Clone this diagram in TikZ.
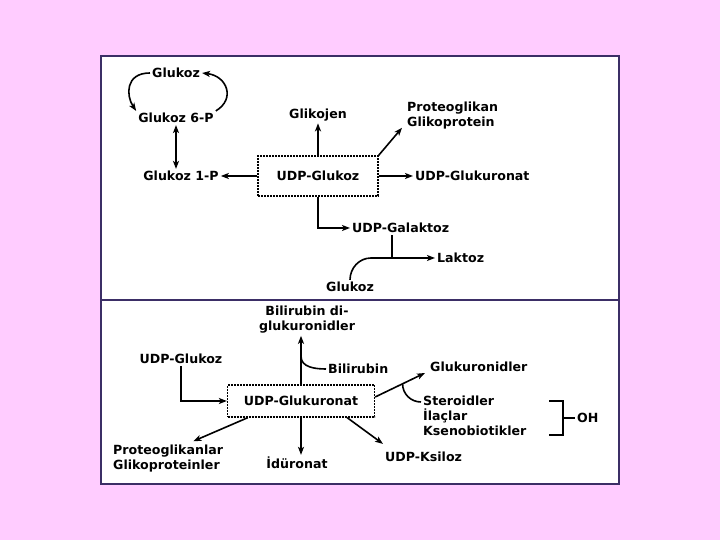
\documentclass[tikz,border=0pt]{standalone}
\usepackage{fontspec}
\setmainfont{DejaVu Sans}
\usetikzlibrary{arrows.meta,positioning,calc}
\definecolor{Pinkbg}{HTML}{FFCCFF}
\definecolor{Frame}{HTML}{3B2E66}
\tikzset{
  arr/.style={-{Stealth[length=8bp,width=6bp,inset=2bp]},line width=1.6bp,draw=black},
  dblarr/.style={{Stealth[length=8bp,width=6bp,inset=2bp]}-{Stealth[length=8bp,width=6bp,inset=2bp]},line width=1.6bp},
  plain/.style={line width=1.6bp},
  lbl/.style={font=\bfseries\fontsize{12.6bp}{15bp}\selectfont,inner sep=2bp},
  dashbox/.style={draw,line width=1.3bp,dash pattern=on 2bp off 1bp,minimum width=120bp,minimum height=40bp}
}
\begin{document}
\begin{tikzpicture}[x=1bp,y=1bp]
  \fill[Pinkbg] (0,0) rectangle (720,540);
  \useasboundingbox (0,0) rectangle (720,540);
  \fill[white] (101,56) rectangle (619,484);
  \draw[Frame,line width=1.2bp] (101,240) |- (619,484) -- (619,240);
  \draw[Frame,line width=1.8bp] (101,240) rectangle (619,56);

  \node[lbl] (glc) at (176,467) {Glukoz};
  \node[lbl] (g6p) at (176,422) {Glukoz 6-P};
  \node[lbl] (g1p) at (181,364) {Glukoz 1-P};
  \node[lbl,dashbox] (udpg) at (318,364) {UDP-Glukoz};
  \node[lbl] (glyc) at (318,425) {Glikojen};
  \node[lbl,align=left,anchor=west] (pgly) at (405,424) {Proteoglikan\\Glikoprotein};
  \node[lbl,anchor=west] (udpgr) at (413,364) {UDP-Glukuronat};
  \node[lbl,anchor=west] (udpgal) at (350,312) {UDP-Galaktoz};
  \node[lbl,anchor=west] (lak) at (435,282) {Laktoz};
  \node[lbl] (glc2) at (350,253) {Glukoz};
  \coordinate (lakj) at (392,282);
  \draw[arr] (glc.west) .. controls +(-25,0) and +(-10,15) .. (g6p.north west);
  \draw[arr] (g6p.north east) .. controls +(20,12) and +(25,-3) .. (glc.east);
  \draw[dblarr] (g6p.south) -- (g6p.south |- g1p.north);
  \draw[arr] (udpg.west) -- (g1p.east);
  \draw[arr] (udpg.north) -- (glyc.south);
  \draw[arr] (udpg.north east) -- ($(pgly.south west)+(-3,4)$);
  \draw[arr] (udpg.east) -- (udpgr.west);
  \draw[arr] (udpg.south) |- (udpgal.west);
  \draw[plain] (udpgal.south -| lakj) -- (lakj);
  \draw[arr] (glc2.north) to[out=90,in=180] ($(lak.west)+(-64,0)$) -- (lak.west);

  \node[lbl,align=center] (bildi) at (307,220) {Bilirubin di-\\glukuronidler};
  \node[lbl,anchor=west] (bili) at (326,171) {Bilirubin};
  \node[lbl] (udpg2) at (181,181) {UDP-Glukoz};
  \node[lbl,dashbox,minimum width=147bp,minimum height=32bp] (udpgr2) at (301,139) {UDP-Glukuronat};
  \node[lbl,align=left,anchor=west] (pglr) at (111,81) {Proteoglikanlar\\Glikoproteinler};
  \node[lbl] (idur) at (297,77) {İdüronat};
  \node[lbl,anchor=west] (udpx) at (383,83) {UDP-Ksiloz};
  \node[lbl,anchor=west] (glcn) at (428,173) {Glukuronidler};
  \node[lbl,align=left,anchor=west] (ster) at (421,124) {Steroidler\\İlaçlar\\Ksenobiotikler};
  \node[lbl,anchor=west] (oh) at (575,122) {OH};
  \coordinate (bilj) at ($(udpgr2.north)+(0,28)$);
  \coordinate (glcs) at ($(udpgr2.east)+(0,4)$);
  \coordinate (glce) at ($(glcn.west)+(-3,-6)$);
  \coordinate (bkt) at (563,122);
  \draw[arr] (udpgr2.north) -- (udpgr2.north |- bildi.south);
  \draw[plain] (bili.west) to[out=180,in=-90] (bilj);
  \draw[arr] (udpg2.south) |- (udpgr2.west);
  \draw[arr] ($(udpgr2.south west)+(21,0)$) -- ($(pglr.north east)+(-32,2)$);
  \draw[arr] (udpgr2.south) -- (udpgr2.south |- idur.north);
  \draw[arr] ($(udpgr2.south east)+(-28,0)$) -- ($(udpx.north west)+(0,6)$);
  \draw[arr] (glcs) -- (glce);
  \draw[plain] ($(ster.west)+(0,14)$) to[out=180,in=-90] ($(glcs)!0.55!(glce)$);
  \draw[plain] ($(bkt)+(-14,17)$) -- ++(14,0) -- ++(0,-34) -- ++(-14,0);
  \draw[plain] (bkt) -- (oh.west);
\end{tikzpicture}
\end{document}
